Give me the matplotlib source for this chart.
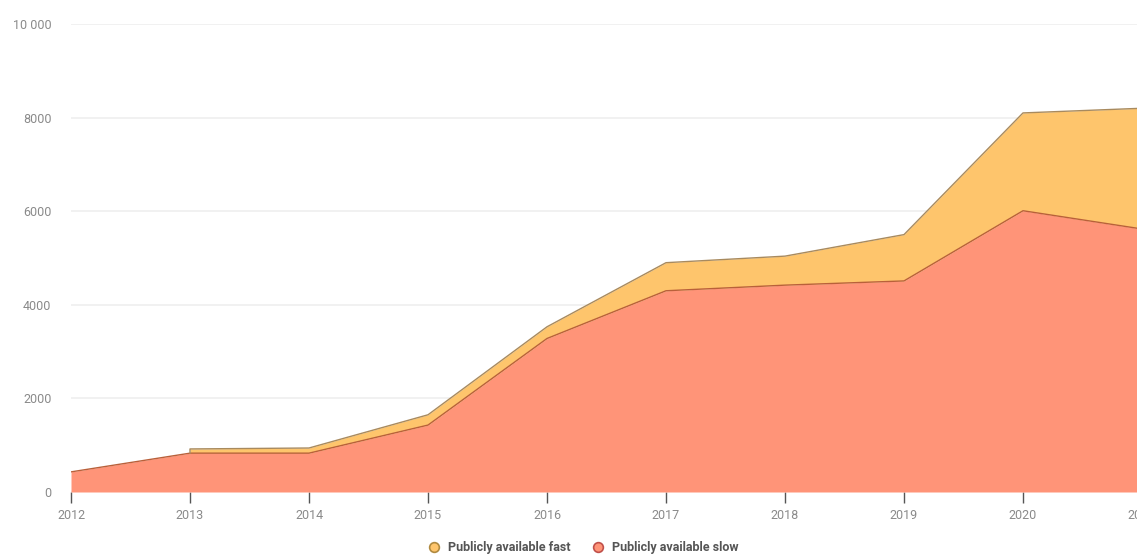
import numpy as np
import matplotlib.pyplot as plt
from matplotlib.lines import Line2D

years = [2012, 2013, 2014, 2015, 2016, 2017, 2018, 2019, 2020, 2021]
slow = [430, 830, 830, 1430, 3280, 4300, 4420, 4510, 6010, 5620]
# fast chargers only reported from 2013 onwards
fast_years = [2013, 2014, 2015, 2016, 2017, 2018, 2019, 2020, 2021]
fast = [90, 110, 220, 250, 600, 620, 990, 2090, 2580]
yticks = [0, 2000, 4000, 6000, 8000, 10000]
ytick_labels = ['0', '2000', '4000', '6000', '8000', '10 000']
series_names = ['Publicly available fast', 'Publicly available slow']

slow_col = '#FF9478'
fast_col = '#FEC56C'
slow_edge = '#B9603A'
fast_edge = '#A88A5E'

plt.rcParams['font.family'] = ['Roboto', 'DejaVu Sans']

fig = plt.figure(figsize=(11.37, 5.56), dpi=100)
ax = fig.add_axes([71 / 1137, 64 / 556, 1071 / 1137, 468 / 556])

x = np.array(years)
s = np.array(slow)
fx = np.array(fast_years)
base = s[np.isin(x, fx)]
top = base + np.array(fast)

ax.fill_between(x, 0, s, color=slow_col, lw=0, zorder=2)
ax.fill_between(fx, base, top, color=fast_col, lw=0, zorder=2)
ax.plot(x, s, color=slow_edge, lw=1.0, zorder=3)
ax.plot(np.r_[fx[0], fx], np.r_[base[0], top], color=fast_edge, lw=1.0, zorder=3)

ax.set_xlim(2012, 2021)
ax.set_ylim(0, 10000)
ax.set_yticks(yticks)
ax.set_yticklabels(ytick_labels)
ax.set_xticks(years)
ax.set_xticklabels([str(y) for y in years])

for sp in ax.spines.values():
    sp.set_visible(False)
ax.grid(axis='y', color='#EFEFEF', lw=1.2, zorder=0)
ax.tick_params(axis='y', length=0, pad=14, labelsize=9, labelcolor='#8A8A8A')
ax.tick_params(axis='x', length=8, width=1, color='#555555', pad=4,
               labelsize=9, labelcolor='#8A8A8A')

handles = [
    Line2D([], [], marker='o', ls='', ms=7, mfc=fast_col, mec='#B08A40', mew=1.2),
    Line2D([], [], marker='o', ls='', ms=7, mfc=slow_col, mec='#C0504A', mew=1.2),
]
leg = fig.legend(handles, series_names, loc='center', bbox_to_anchor=(0.51, 0.015),
                 ncol=2, frameon=False, fontsize=9, handletextpad=0.1,
                 columnspacing=1.2, borderaxespad=0)
for t in leg.get_texts():
    t.set_color('#555555')
    t.set_fontweight('bold')

fig.savefig('out.png', dpi=100)
